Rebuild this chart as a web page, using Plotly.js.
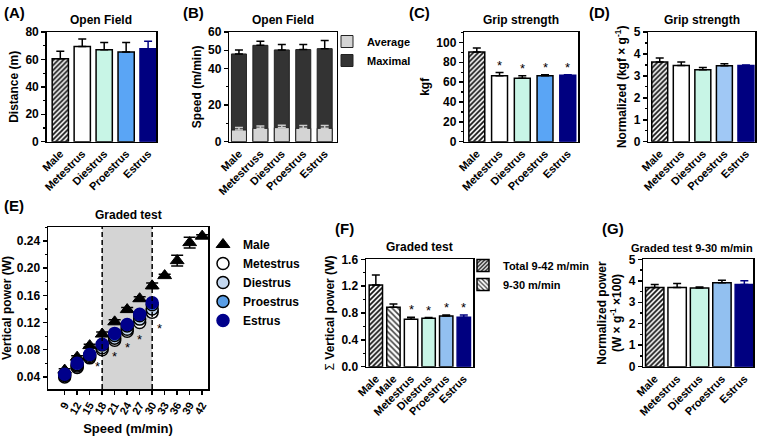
<!DOCTYPE html>
<html>
<head>
<meta charset="utf-8">
<script src="https://cdn.plot.ly/plotly-3.0.1.min.js"></script>
<style>html,body{margin:0;padding:0;background:#fff;}#chart{width:760px;height:436px;}</style>
</head>
<body>
<div id="chart"></div>
<script>
// ---------------- DATA ----------------
const groups = ['Male', 'Metestrus', 'Diestrus', 'Proestrus', 'Estrus'];
const groupsB = ['Male', 'Metestruss', 'Diestrus', 'Proestrus', 'Estrus'];
const distance = [60.5, 69.5, 67.1, 65.4, 67.8];
const distanceErr = [5.4, 5.4, 5.3, 7.0, 5.4];
const speedAvg = [6.4, 7.3, 7.7, 7.3, 7.3];
const speedAvgErr = [1.3, 1.3, 1.3, 1.5, 1.5];
const speedMax = [48.0, 52.7, 50.2, 50.4, 50.9];
const speedMaxErr = [2.2, 2.2, 2.9, 2.7, 4.4];
const grip = [90.3, 66.4, 64.0, 66.4, 67.0];
const gripErr = [4.0, 3.3, 2.4, 1.0, 0.5];
const gripNorm = [3.63, 3.47, 3.28, 3.46, 3.47];
const gripNormErr = [0.18, 0.16, 0.10, 0.09, 0.03];
const gripSig = [false, true, true, true, true];

const speeds = [9, 12, 15, 18, 21, 24, 27, 30, 33, 36, 39, 42];
const malePower = [0.050, 0.069, 0.086, 0.103, 0.121, 0.139, 0.155, 0.174, 0.189, 0.211, 0.2375, 0.247];
const malePowerErr = [0.002, 0.002, 0.002, 0.003, 0.003, 0.003, 0.003, 0.004, 0.002, 0.008, 0.008, 0.002];
const femaleSpeeds = [9, 12, 15, 18, 21, 24, 27, 30];
const metestrusPower = [0.040, 0.054, 0.068, 0.080, 0.094, 0.107, 0.120, 0.135];
const metestrusErr = [0.002, 0.002, 0.003, 0.003, 0.004, 0.004, 0.004, 0.006];
const diestrusPower = [0.042, 0.056, 0.070, 0.083, 0.097, 0.110, 0.125, 0.140];
const diestrusErr = [0.002, 0.002, 0.003, 0.003, 0.003, 0.004, 0.004, 0.005];
const proestrusPower = [0.043, 0.058, 0.072, 0.087, 0.101, 0.115, 0.130, 0.146];
const proestrusErr = [0.002, 0.002, 0.003, 0.003, 0.003, 0.004, 0.004, 0.005];
const estrusPower = [0.044, 0.060, 0.073, 0.088, 0.104, 0.117, 0.132, 0.149];
const estrusErr = [0.002, 0.002, 0.003, 0.003, 0.003, 0.004, 0.004, 0.005];
const sigSpeeds = [18, 21, 24, 27, 30];
const gradedWindow = [18, 30];

const groupsF = ['Male', 'Male', 'Metestrus', 'Diestrus', 'Proestrus', 'Estrus'];
const legendF = ['Total 9-42 m/min', '9-30 m/min'];
const sumPower = [1.217, 0.885, 0.706, 0.72, 0.755, 0.736];
const sumPowerErr = [0.15, 0.05, 0.03, 0.012, 0.015, 0.034];
const sumSig = [false, false, true, true, true, true];
const normPower = [3.69, 3.69, 3.66, 3.91, 3.83];
const normPowerErr = [0.14, 0.18, 0.05, 0.12, 0.17];

// ---------------- STYLE ----------------
const FONT = 'Liberation Sans, Arial, Helvetica, sans-serif';
const NAVY = '#000080';
const fillA = {Male: 'hatch', Metestrus: '#ffffff', Diestrus: '#c8f5e6', Proestrus: '#5aa5f5', Estrus: NAVY};
const fillD = {Male: 'hatch', Metestrus: '#ffffff', Diestrus: '#c8f5e6', Proestrus: '#a0c8f5', Estrus: NAVY};

function barTraces(n, cats, vals, errs, fills, width, keys) {
  return cats.map((c, i) => {
    const key = keys ? keys[i] : c;
    const f = fills[key] || fills[c];
    const hatch = f === 'hatch' || f === 'hatch2';
    const edge = f === NAVY ? NAVY : '#000';
    const m = {color: hatch ? '#ffffff' : f, line: {color: edge, width: 1.5}};
    if (hatch) {
      m.pattern = f === 'hatch2'
        ? {shape: '\\', fgcolor: '#444', bgcolor: '#fff', size: 4, solidity: 0.4}
        : {shape: '/', fgcolor: '#111', bgcolor: '#fff', size: 3.5, solidity: 0.5};
    }
    return {
      type: 'bar', xaxis: 'x' + n, yaxis: 'y' + n, x: [i], y: [vals[i]], width: width,
      marker: m, showlegend: false, hoverinfo: 'skip',
      error_y: {type: 'data', array: [errs[i]], arrayminus: [0], symmetric: false,
        color: edge, thickness: 1.5, width: 4}
    };
  });
}

const traces = [];
// A
traces.push(...barTraces('', groups, distance, distanceErr, fillA, 0.74));
// B
traces.push({type: 'bar', xaxis: 'x2', yaxis: 'y2', x: groupsB.map((_, i) => i), y: speedMax, width: 0.7,
  name: 'Maximal', legend: 'legend', marker: {color: '#333333', line: {color: '#222', width: 1}},
  error_y: {type: 'data', array: speedMaxErr, arrayminus: speedMax.map(() => 0), symmetric: false, color: '#000', thickness: 1.5, width: 4}});
traces.push({type: 'bar', xaxis: 'x2', yaxis: 'y2', x: groupsB.map((_, i) => i), y: speedAvg, width: 0.7,
  name: 'Average', legend: 'legend', marker: {color: '#d4d4d4', line: {color: '#222', width: 1}},
  error_y: {type: 'data', array: speedAvgErr, arrayminus: speedAvg.map(() => 0), symmetric: false, color: '#cccccc', thickness: 1.5, width: 4}});
// C
traces.push(...barTraces('3', groups, grip, gripErr, fillA, 0.7));
// D
traces.push(...barTraces('4', groups, gripNorm, gripNormErr, fillD, 0.74));
// E
traces.push({type: 'scatter', mode: 'markers', xaxis: 'x5', yaxis: 'y5', x: speeds, y: malePower, name: 'Male', legend: 'legend2',
  marker: {symbol: 'triangle-up', size: 12, color: '#000', line: {color: '#000', width: 1}},
  error_y: {type: 'data', array: malePowerErr, color: '#000', thickness: 1.5, width: 6}});
const femSeries = [
  ['Metestrus', metestrusPower, metestrusErr, '#ffffff'],
  ['Diestrus', diestrusPower, diestrusErr, '#c4d8f0'],
  ['Proestrus', proestrusPower, proestrusErr, '#5a9ee6'],
  ['Estrus', estrusPower, estrusErr, '#00008b']
];
femSeries.forEach(([nm, v, e, col]) => {
  traces.push({type: 'scatter', mode: 'markers', xaxis: 'x5', yaxis: 'y5', x: femaleSpeeds, y: v, name: nm, legend: 'legend2',
    marker: {symbol: 'circle', size: 12, color: col, line: {color: nm === 'Estrus' ? '#00008b' : '#000', width: 1.5}},
    error_y: {type: 'data', array: e, color: '#000', thickness: 1.5, width: 5}});
});
// F
const fillF = {MaleT: 'hatch', MaleP: 'hatch2', Metestrus: '#ffffff', Diestrus: '#c8f5e6', Proestrus: '#92c0f0', Estrus: NAVY};
const fKeys = ['MaleT', 'MaleP', 'Metestrus', 'Diestrus', 'Proestrus', 'Estrus'];
const fTr = barTraces('6', groupsF, sumPower, sumPowerErr, fillF, 0.76, fKeys);
fTr[0].showlegend = true; fTr[0].name = legendF[0]; fTr[0].legend = 'legend3';
fTr[1].showlegend = true; fTr[1].name = legendF[1]; fTr[1].legend = 'legend3';
traces.push(...fTr);
// G
traces.push(...barTraces('7', groups, normPower, normPowerErr, {Male: 'hatch', Metestrus: '#ffffff', Diestrus: '#c8f5e6', Proestrus: '#92c0f0', Estrus: NAVY}, 0.82));

// ---------------- AXES ----------------
const W = 760, H = 436;
const dx = (a, b) => [a / W, b / W];
const dy = (top, bot) => [1 - bot / H, 1 - top / H];
const tickF = {family: FONT, size: 12, color: '#000', weight: 'bold'};
const catF = {family: FONT, size: 11, color: '#000', weight: 'bold'};
const titleF = {family: FONT, size: 12, color: '#000', weight: 'bold'};
const base = {showline: true, mirror: true, linecolor: '#000', linewidth: 1.5, showgrid: false, zeroline: false, fixedrange: true};
function catAxis(cats, dom, range, anchor) {
  return Object.assign({}, base, {domain: dom, range: range, anchor: anchor, tickmode: 'array',
    tickvals: cats.map((_, i) => i), ticktext: cats, tickangle: -45, ticks: '', tickfont: catF});
}
function valAxis(dom, range, dtick, minor, title, anchor, extra) {
  return Object.assign({}, base, {domain: dom, range: range, anchor: anchor, dtick: dtick, ticks: 'outside', ticklen: 4,
    tickwidth: 1.5, tickcolor: '#000', tickfont: tickF,
    minor: {ticks: 'outside', ticklen: 2, tickwidth: 1.2, tickcolor: '#000', dtick: minor},
    title: {text: title, font: titleF, standoff: 4}}, extra || {});
}
const topRow = dy(32, 141.7);
const botRow = dy(259.3, 366.7);

const layout = {
  width: W, height: H, margin: {l: 0, r: 0, t: 0, b: 0}, paper_bgcolor: '#fff', plot_bgcolor: '#fff',
  barmode: 'overlay', font: {family: FONT, color: '#000'},
  xaxis: catAxis(groups, dx(46.7, 156), [-0.62, 4.36], 'y'),
  yaxis: valAxis(topRow, [0, 80], 20, 10, 'Distance (m)', 'x'),
  xaxis2: catAxis(groupsB, dx(229.3, 336.7), [-0.45, 4.56], 'y2'),
  yaxis2: valAxis(topRow, [0, 60], null, 10, 'Speed (m/min)', 'x2', {tickmode: 'array', tickvals: [0, 20, 40, 50, 60]}),
  xaxis3: catAxis(groups, dx(464.3, 578), [-0.55, 4.45], 'y3'),
  yaxis3: valAxis(topRow, [0, 110.5], 20, 10, 'kgf', 'x3'),
  xaxis4: catAxis(groups, dx(648.3, 755), [-0.53, 4.42], 'y4'),
  yaxis4: valAxis(topRow, [0, 5], 1, 0.5, 'Normalized (kgf × g<sup>-1</sup>)', 'x4'),
  xaxis5: Object.assign({}, base, {domain: dx(48, 208), range: [5, 43.4], anchor: 'y5', tickmode: 'array', tickvals: speeds,
    tickangle: -60, ticks: 'outside', ticklen: 4, tickwidth: 1.5, tickcolor: '#000', tickfont: {family: FONT, size: 11, color: '#000', weight: 'bold'},
    title: {text: 'Speed (m/min)', font: {family: FONT, size: 13, color: '#000', weight: 'bold'}, standoff: 8}}),
  yaxis5: valAxis(dy(227, 389), [0.0222, 0.2605], 0.04, 0.02, 'Vertical power (W)', 'x5', {tick0: 0, tickformat: '.2f'}),
  xaxis6: catAxis(groupsF, dx(366, 473.3), [-0.56, 5.54], 'y6'),
  yaxis6: valAxis(botRow, [0, 1.6], 0.4, 0.2, '<span style="font-weight:normal">Σ</span> Vertical power (W)', 'x6', {tickformat: '.1f'}),
  xaxis7: catAxis(groups, dx(643.3, 753.3), [-0.51, 4.4], 'y7'),
  yaxis7: valAxis(botRow, [0, 5], 1, 0.5, 'Normalized power<br>(W × g<sup>-1</sup> ×100)', 'x7'),
  legend: {x: 327 / W, y: 1 - 27 / H, xanchor: 'left', yanchor: 'top', traceorder: 'reversed', bgcolor: 'rgba(0,0,0,0)',
    font: {family: FONT, size: 11, color: '#000', weight: 'bold'}},
  legend2: {x: 203 / W, y: 1 - 230 / H, xanchor: 'left', yanchor: 'top', bgcolor: 'rgba(0,0,0,0)',
    font: {family: FONT, size: 12, color: '#000', weight: 'bold'}},
  legend3: {x: 463 / W, y: 1 - 251 / H, xanchor: 'left', yanchor: 'top', bgcolor: 'rgba(0,0,0,0)',
    font: {family: FONT, size: 11, color: '#000', weight: 'bold'}},
  shapes: [
    {type: 'rect', xref: 'x5', yref: 'y5 domain', x0: gradedWindow[0], x1: gradedWindow[1], y0: 0, y1: 1,
      fillcolor: '#d4d4d4', line: {width: 0}, layer: 'below'},
    {type: 'line', xref: 'x5', yref: 'y5 domain', x0: gradedWindow[0], x1: gradedWindow[0], y0: 0, y1: 1,
      line: {color: '#000', width: 1.5, dash: '5px,3px'}},
    {type: 'line', xref: 'x5', yref: 'y5 domain', x0: gradedWindow[1], x1: gradedWindow[1], y0: 0, y1: 1,
      line: {color: '#000', width: 1.5, dash: '5px,3px'}}
  ],
  annotations: []
};

const ann = layout.annotations;
function panelTitle(n, text, size, xs) {
  ann.push({xref: 'x' + n + ' domain', yref: 'y' + n + ' domain', x: 0.5, y: 1, yanchor: 'bottom', yshift: 3, xshift: xs || 0,
    text: text, showarrow: false, font: {family: FONT, size: size || 12, color: '#000', weight: 'bold'}});
}
panelTitle('', 'Open Field'); panelTitle('2', 'Open Field'); panelTitle('3', 'Grip strength');
panelTitle('4', 'Grip strength'); panelTitle('5', 'Graded test'); panelTitle('6', 'Graded test');
panelTitle('7', 'Graded test 9-30 m/min', 11, -6);
function letter(t, px, py) {
  ann.push({xref: 'paper', yref: 'paper', x: px / W, y: 1 - py / H, xanchor: 'left', yanchor: 'middle', text: t,
    showarrow: false, font: {family: FONT, size: 15, color: '#000', weight: 'bold'}});
}
letter('(A)', 2, 12); letter('(B)', 181, 12); letter('(C)', 407, 12); letter('(D)', 587, 12);
letter('(E)', 2, 206); letter('(F)', 333, 228); letter('(G)', 600, 228);

// significance asterisks
const star = (xr, yr, x, y, xs, ys) => ann.push({xref: xr, yref: yr, x: x, y: y, text: '*', showarrow: false,
  xshift: xs || 0, yshift: ys || 0, yanchor: 'bottom', font: {family: FONT, size: 13, color: '#000'}});
gripSig.forEach((s, i) => { if (s) star('x3', 'y3', i, grip[i] + gripErr[i], 0, -2); });
sumSig.forEach((s, i) => { if (s) star('x6', 'y6', i, sumPower[i] + sumPowerErr[i], 0, -2); });
sigSpeeds.forEach(sp => {
  const k = femaleSpeeds.indexOf(sp);
  const xs = sp === gradedWindow[0] ? -5 : (sp === gradedWindow[1] ? 7 : 0);
  star('x5', 'y5', sp, metestrusPower[k], xs, -26);
});

Plotly.newPlot('chart', traces, layout, {staticPlot: true, displayModeBar: false});
</script>
</body>
</html>
